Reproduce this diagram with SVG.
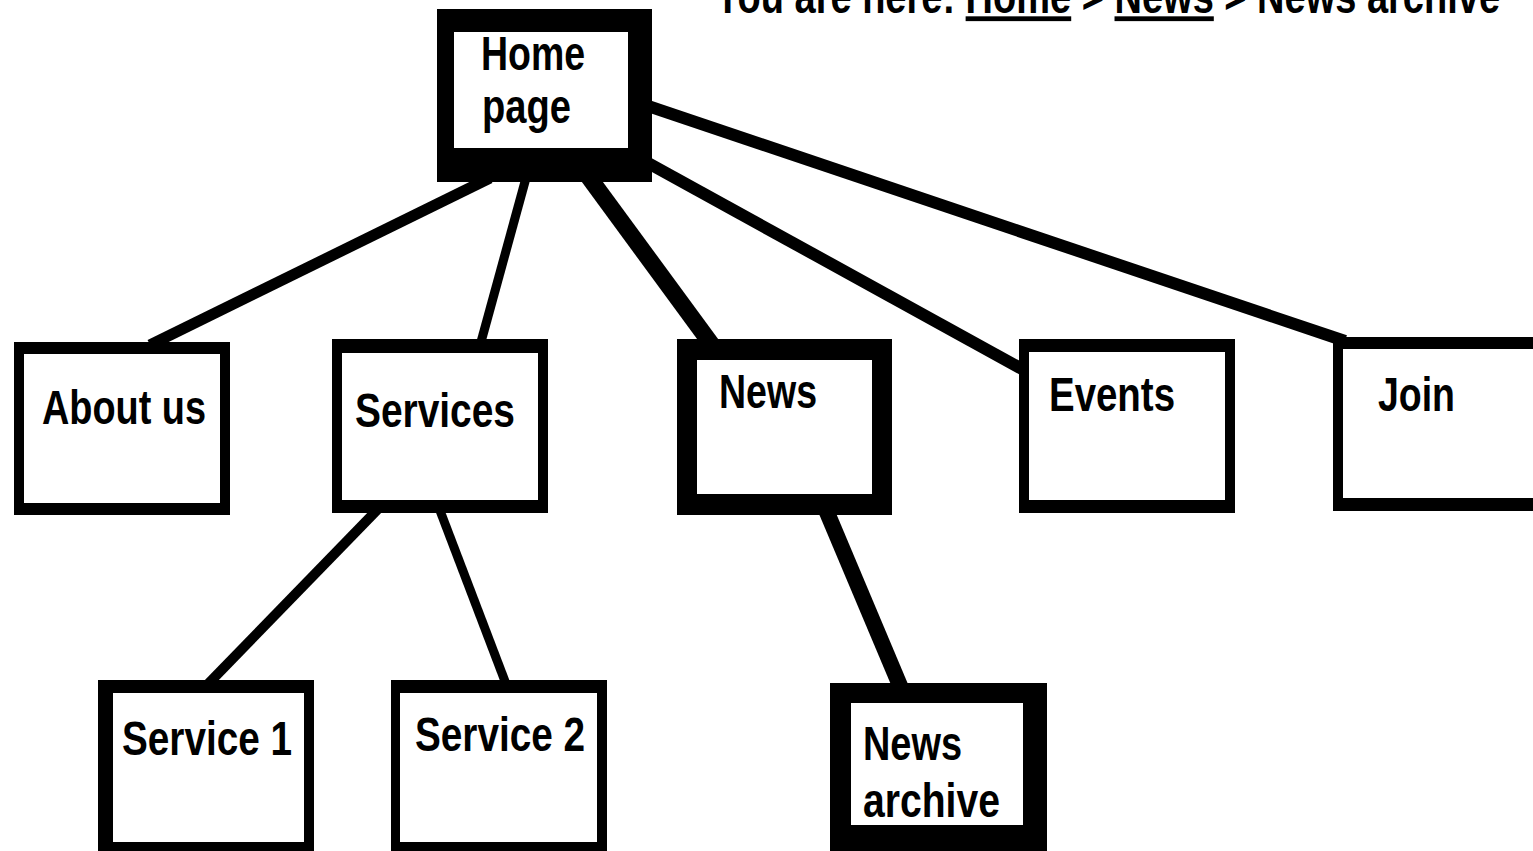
<svg xmlns="http://www.w3.org/2000/svg" width="1533" height="851" viewBox="0 0 1533 851">
<style>
.o{fill:#000}
.i{fill:#fff}
.t{font-family:"Liberation Sans",Arial,sans-serif;font-weight:bold;font-size:48px;fill:#000}
.c{stroke:#000;fill:none;stroke-linecap:butt}
</style>
<rect width="1533" height="851" fill="#fff"/>
<text class="t" transform="translate(715,13) scale(0.792,1)">You are here: <tspan text-decoration="underline">Home</tspan> &gt; <tspan text-decoration="underline">News</tspan> &gt; News archive</text>
<g id="connectors">
<line class="c" x1="490" y1="178" x2="150" y2="345" stroke-width="11"/>
<line class="c" x1="526" y1="178" x2="481" y2="342" stroke-width="9"/>
<line class="c" x1="588" y1="176" x2="712" y2="345" stroke-width="17"/>
<line class="c" x1="648" y1="163" x2="1022" y2="369" stroke-width="12"/>
<line class="c" x1="648" y1="106" x2="1345" y2="341" stroke-width="12"/>
<line class="c" x1="379" y1="508" x2="208" y2="684" stroke-width="10"/>
<line class="c" x1="439" y1="508" x2="506" y2="684" stroke-width="9"/>
<line class="c" x1="826" y1="510" x2="901" y2="688" stroke-width="16"/>
</g>
<g id="home">
<rect class="o" x="437" y="9" width="215" height="173"/>
<rect class="i" x="454" y="32" width="174" height="116"/>
<text class="t" x="481" y="70" textLength="104" lengthAdjust="spacingAndGlyphs">Home</text>
<text class="t" x="482" y="123" textLength="89" lengthAdjust="spacingAndGlyphs">page</text>
</g>
<g id="about">
<rect class="o" x="14" y="342" width="216" height="173"/>
<rect class="i" x="24" y="354" width="196" height="149"/>
<text class="t" x="42" y="424" textLength="164" lengthAdjust="spacingAndGlyphs">About us</text>
</g>
<g id="services">
<rect class="o" x="332" y="339" width="216" height="174"/>
<rect class="i" x="342" y="353" width="196" height="147"/>
<text class="t" x="355" y="427" textLength="160" lengthAdjust="spacingAndGlyphs">Services</text>
</g>
<g id="news">
<rect class="o" x="677" y="339" width="215" height="176"/>
<rect class="i" x="697" y="360" width="175" height="134"/>
<text class="t" x="719" y="408" textLength="98" lengthAdjust="spacingAndGlyphs">News</text>
</g>
<g id="events">
<rect class="o" x="1019" y="339" width="216" height="174"/>
<rect class="i" x="1029" y="352" width="196" height="148"/>
<text class="t" x="1049" y="411" textLength="126" lengthAdjust="spacingAndGlyphs">Events</text>
</g>
<g id="join">
<rect class="o" x="1333" y="337" width="210" height="174"/>
<rect class="i" x="1343" y="349" width="200" height="149"/>
<text class="t" x="1378" y="411" textLength="77" lengthAdjust="spacingAndGlyphs">Join</text>
</g>
<g id="service1">
<rect class="o" x="98" y="680" width="216" height="180"/>
<rect class="i" x="113" y="693" width="191" height="149"/>
<text class="t" x="122" y="755" textLength="170" lengthAdjust="spacingAndGlyphs">Service 1</text>
</g>
<g id="service2">
<rect class="o" x="391" y="680" width="216" height="180"/>
<rect class="i" x="400" y="693" width="197" height="149"/>
<text class="t" x="415" y="751" textLength="170" lengthAdjust="spacingAndGlyphs">Service 2</text>
</g>
<g id="newsarchive">
<rect class="o" x="830" y="683" width="217" height="180"/>
<rect class="i" x="851" y="703" width="172" height="122"/>
<text class="t" x="863" y="760" textLength="99" lengthAdjust="spacingAndGlyphs">News</text>
<text class="t" x="863" y="817" textLength="137" lengthAdjust="spacingAndGlyphs">archive</text>
</g>
</svg>
